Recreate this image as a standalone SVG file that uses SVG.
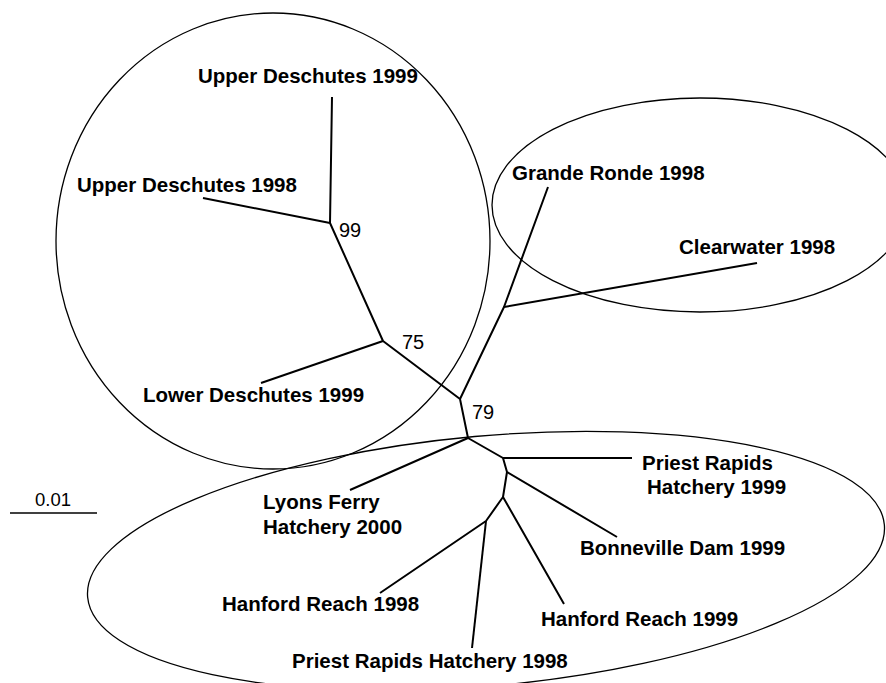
<svg xmlns="http://www.w3.org/2000/svg" width="886" height="683" viewBox="0 0 886 683">
<style>
.lbl{font-family:"Liberation Sans",Arial,sans-serif;font-weight:bold;font-size:20.5px;fill:#000}
.bs{font-family:"Liberation Sans",Arial,sans-serif;font-size:20px;fill:#000}
.ell{fill:none;stroke:#000;stroke-width:1.3}
.br{fill:none;stroke:#000;stroke-width:2;stroke-linejoin:round;stroke-linecap:butt}
</style>
<rect width="886" height="683" fill="#fff"/>
<g id="clusters">
<ellipse id="cluster-deschutes" class="ell" cx="273" cy="241" rx="217" ry="228"/>
<ellipse id="cluster-snake" class="ell" cx="700" cy="205" rx="208" ry="107"/>
<ellipse id="cluster-columbia" class="ell" cx="486" cy="561" rx="400" ry="125" transform="rotate(-5.2 486 561)"/>
</g>
<g id="connectors">
<polyline class="br" points="332,97 330,223 203,198"/>
<polyline class="br" points="330,223 383,341 460,399 468,438"/>
<polyline class="br" points="261,383 383,341"/>
<polyline class="br" points="460,399 504,307 548,187"/>
<polyline class="br" points="504,307 757,263"/>
<polyline class="br" points="350,490 468,438 503,458 632,458"/>
<polyline class="br" points="503,458 507,472 617,537"/>
<polyline class="br" points="507,472 503,497 564,604"/>
<polyline class="br" points="503,497 486,521 380,593"/>
<polyline class="br" points="486,521 472,648"/>
<line x1="10" y1="513" x2="97" y2="513" stroke="#000" stroke-width="1.3"/>
</g>
<g id="n-ud1999"><text class="lbl" x="198" y="83">Upper Deschutes 1999</text></g>
<g id="n-ud1998"><text class="lbl" x="77" y="192">Upper Deschutes 1998</text></g>
<g id="n-ld1999"><text class="lbl" x="143" y="402">Lower Deschutes 1999</text></g>
<g id="n-gr1998"><text class="lbl" x="512" y="180">Grande Ronde 1998</text></g>
<g id="n-cw1998"><text class="lbl" x="679" y="254">Clearwater 1998</text></g>
<g id="n-prh1999"><text class="lbl" x="642" y="470">Priest Rapids</text><text class="lbl" x="647" y="494">Hatchery 1999</text></g>
<g id="n-lfh2000"><text class="lbl" x="263" y="509">Lyons Ferry</text><text class="lbl" x="263" y="534">Hatchery 2000</text></g>
<g id="n-bd1999"><text class="lbl" x="580" y="555">Bonneville Dam 1999</text></g>
<g id="n-hr1998"><text class="lbl" x="222" y="611">Hanford Reach 1998</text></g>
<g id="n-hr1999"><text class="lbl" x="541" y="626">Hanford Reach 1999</text></g>
<g id="n-prh1998"><text class="lbl" x="292" y="668">Priest Rapids Hatchery 1998</text></g>
<g id="bootstrap">
<text class="bs" x="339" y="237">99</text>
<text class="bs" x="402" y="349">75</text>
<text class="bs" x="472" y="419">79</text>
</g>
<g id="scale"><text class="bs" x="35" y="506" style="font-size:18.5px">0.01</text></g>
</svg>
